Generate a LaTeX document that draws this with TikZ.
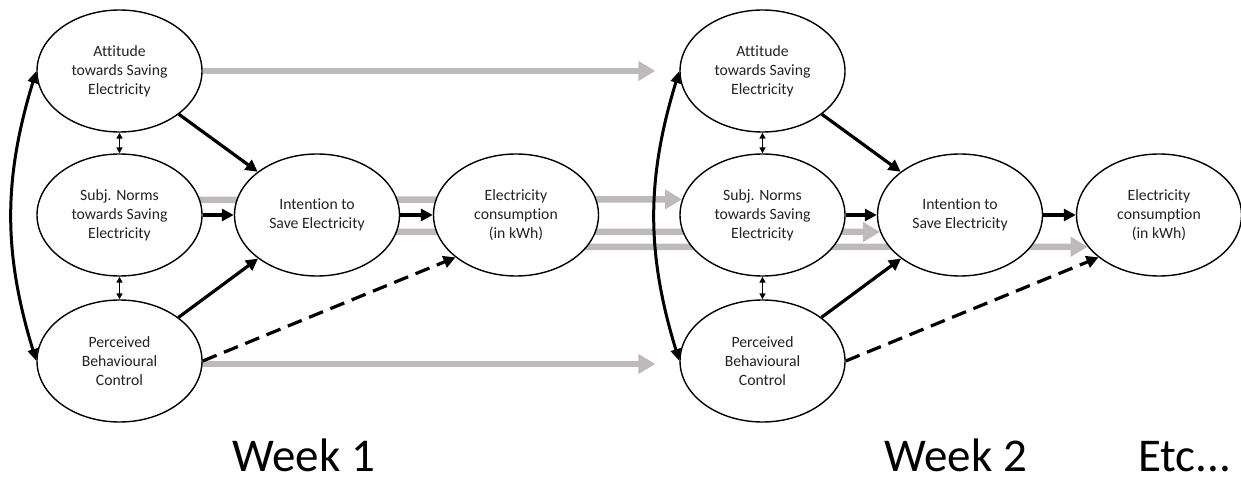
\documentclass[tikz,border=0pt]{standalone}
\usepackage{fontspec}
\setmainfont{Carlito}[Ligatures=NoCommon]
\usetikzlibrary{shapes.geometric,arrows.meta,calc}
\pgfdeclarelayer{background}
\pgfsetlayers{background,main}
\definecolor{lagray}{RGB}{191,186,186}
\definecolor{txtgray}{RGB}{35,35,35}
\begin{document}
\begin{tikzpicture}[x=1pt,y=-1pt,
  construct/.style={ellipse, draw=black, line width=1.4pt, fill=white,
    minimum width=165pt, minimum height=122pt, inner sep=0pt, align=center,
    text=txtgray, font=\fontsize{15.7}{19}\selectfont},
  effect/.style={line width=3.2pt, -{Triangle[length=12pt,width=12pt]}},
  weakeffect/.style={line width=3.2pt, dash pattern=on 15pt off 8pt,
    -{Triangle[length=12pt,width=12pt]}},
  corr/.style={line width=1.4pt,
    {Triangle[length=6pt,width=6pt]}-{Triangle[length=6pt,width=6pt]}},
  covar/.style={line width=3pt,
    {Triangle[length=12pt,width=10pt]}-{Triangle[length=12pt,width=10pt]}},
  lag/.style={lagray, line width=6.5pt, -{Triangle[length=17pt,width=19pt]}},
  weeklabel/.style={font=\fontsize{47}{56}\selectfont, anchor=base west,
    inner sep=0pt, text depth=0pt}
]
\useasboundingbox (0,0) rectangle (1241,478);

\foreach \w/\dx in {1/0, 2/643}{
  \node[construct] (A\w) at (119.5+\dx,71) {Attitude\\towards Saving\\Electricity};
  \node[construct] (S\w) at (119.5+\dx,215) {Subj. Norms\\towards Saving\\Electricity};
  \node[construct] (P\w) at (119.5+\dx,361) {Perceived\\Behavioural\\Control};
  \node[construct] (I\w) at (317+\dx,215) {Intention to\\Save Electricity};
  \node[construct] (E\w) at (516+\dx,215) {Electricity\\consumption\\(in kWh)};

  \draw[effect] (A\w) -- (I\w);
  \draw[effect] (S\w) -- (I\w);
  \draw[effect] (P\w) -- (I\w);
  \draw[effect] (I\w) -- (E\w);
  \draw[weakeffect] (P\w.east) -- (E\w.215);
  \draw[corr] (A\w.south) -- (S\w.north);
  \draw[corr] (S\w.south) -- (P\w.north);
  \draw[covar] (A\w.west) to[bend right=17] (P\w.west);
}

\begin{pgfonlayer}{background}
  \draw[lag] (A1.east) -- ($(A2.west)+(-24,0)$);
  \draw[lag] ($(P1.center)+(0,3)$) -- ($(P2.west)+(-24,3)$);
  \draw[lag] ($(S1.center)+(0,-15)$) -- (S2.169.4);
  \draw[lag] ($(I1.center)+(0,17)$) -- (I2.192);
  \draw[lag] ($(E1.center)+(0,32)$) -- (E2.204.5);
\end{pgfonlayer}

\node[weeklabel] (w1) at (232,471) {Week 1};
\node[weeklabel] (w2) at (884,471) {Week 2};
\node[weeklabel] (etc) at (1138,471) {Etc...};
\end{tikzpicture}
\end{document}
